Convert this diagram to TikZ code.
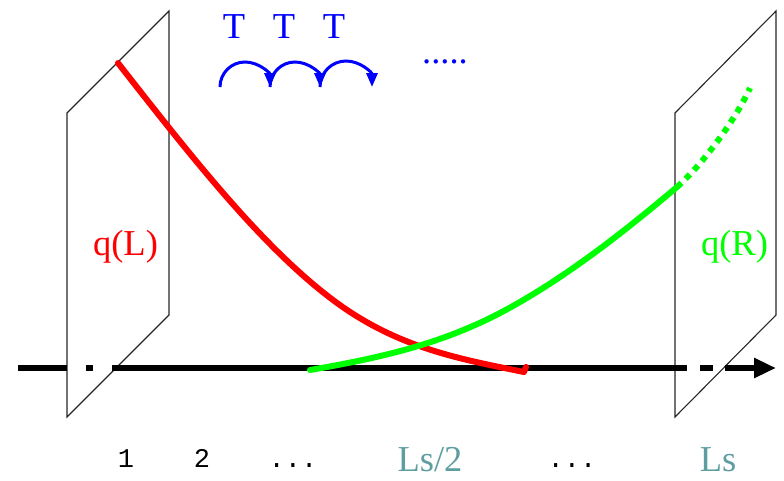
\documentclass[tikz,border=0pt]{standalone}
\usepackage{fontspec}
\setmainfont{Liberation Serif}
\setmonofont{Liberation Mono}
\usetikzlibrary{arrows.meta}
\definecolor{qteal}{RGB}{95,158,160}
\definecolor{qred}{RGB}{255,0,0}
\definecolor{qgreen}{RGB}{0,255,0}
\definecolor{qblue}{RGB}{0,0,255}
\begin{document}
\begin{tikzpicture}[x=1pt,y=-1pt,
  plane/.style={draw=black!85, line width=1.1pt, line join=miter},
  axisline/.style={line width=5.5pt, black},
  curvebig/.style={line width=6pt, line cap=round, line join=round},
  bigtext/.style={font=\fontsize{36.5}{40}\selectfont, inner sep=0pt, anchor=base},
  monotext/.style={font=\ttfamily\fontsize{27}{30}\selectfont, inner sep=0pt, anchor=base},
  hop/.style={qblue, line width=3pt, -{Triangle[length=14pt,width=11pt]}}
]
\useasboundingbox (0,0) rectangle (784,480);

% left plane
\draw[plane] (67,113) -- (169,11) -- (169,315) -- (67,417) -- cycle;
% right plane
\draw[plane] (675,113) -- (776,11) -- (776,315) -- (675,417) -- cycle;

% axis
\coordinate (a0) at (18,368);
\coordinate (a1) at (67,368);
\coordinate (a2) at (86,368);
\coordinate (a3) at (93,368);
\coordinate (a4) at (112,368);
\coordinate (a5) at (687,368);
\coordinate (a6) at (700,368);
\coordinate (a7) at (713,368);
\coordinate (a8) at (725,368);
\coordinate (a9) at (776,368);
\draw[axisline] (a0) -- (a1);
\draw[axisline] (a2) -- (a3);
\draw[axisline] (a4) -- (a5);
\draw[axisline] (a6) -- (a7);
\draw[axisline, -{Triangle[length=22pt,width=19pt]}] (a8) -- (a9);

% red curve q(L)
\coordinate (r0) at (118,63);
\coordinate (r1) at (333,300);
\coordinate (r2) at (524,372);
\coordinate (r3) at (526,367);
\draw[curvebig, qred] (r0) .. controls (190,155) and (261,246) .. (r1)
  .. controls (397,348) and (460,359) .. (r2) -- (r3);

% green curve q(R)
\coordinate (g0) at (310,370);
\coordinate (g1) at (500,313);
\coordinate (g2) at (677,187);
\coordinate (g3) at (750,88);
\draw[curvebig, qgreen] (g0) .. controls (373,359) and (437,346) .. (g1)
  .. controls (559,282) and (618,237) .. (g2);
\draw[curvebig, qgreen, line cap=butt, dash pattern=on 6pt off 6pt]
  (g2) .. controls (701,166) and (735,121) .. (g3);

% labels
\node[bigtext, qred] (qL) at (125.5,255) {q(L)};
\node[bigtext, qgreen] (qR) at (734.5,255) {q(R)};

\node[bigtext, qblue] (T1) at (234,38) {T};
\node[bigtext, qblue] (T2) at (284,38) {T};
\node[bigtext, qblue] (T3) at (334,38) {T};
\node[bigtext, qblue] (dots) at (445,63) {.....};

\draw[hop] (220,87) arc[start angle=180, end angle=360, radius=25];
\draw[hop] (270,87) arc[start angle=180, end angle=360, radius=25];
\draw[hop] (320,87) arc[start angle=180, end angle=360, radius=26];

% bottom labels
\node[monotext] (n1) at (126,467) {1};
\node[monotext] (n2) at (202,467) {2};
\node[monotext] (d1) at (293,467) {...};
\node[bigtext, qteal] (half) at (430,471) {Ls/2};
\node[monotext] (d2) at (572,467) {...};
\node[bigtext, qteal] (Ls) at (718,471) {Ls};
\end{tikzpicture}
\end{document}
